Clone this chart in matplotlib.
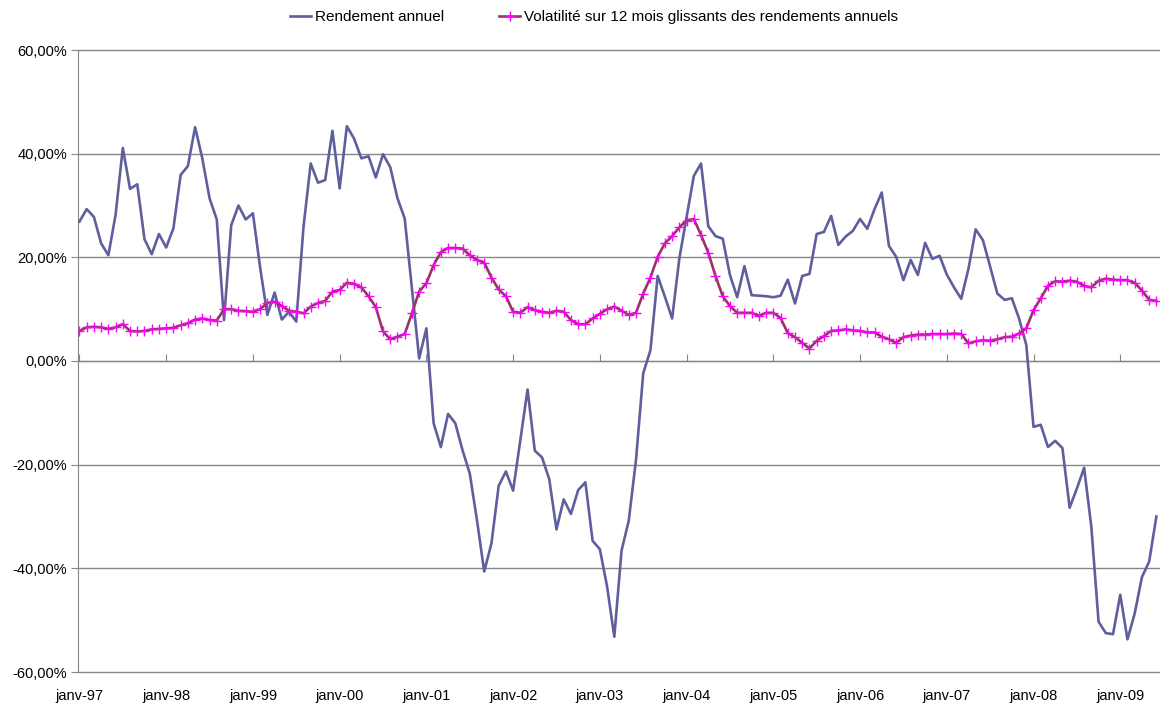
import matplotlib
matplotlib.use("Agg")
import matplotlib.pyplot as plt
from matplotlib.ticker import FuncFormatter
import pandas as pd

# Monthly categories: janv-97 .. juin-09
months = pd.date_range("1997-01-01", periods=150, freq="MS")

rendement = [
    26.9, 29.3, 27.8, 22.7, 20.4, 28.2, 41.1, 33.2, 34.1, 23.5, 20.6, 24.5,
    21.9, 25.6, 35.9, 37.6, 45.1, 39.1, 31.4, 27.3, 7.9, 26.2, 30.0, 27.3,
    28.5, 18.0, 8.9, 13.2, 8.0, 9.5, 7.6, 25.9, 38.1, 34.4, 34.9, 44.4,
    33.3, 45.3, 42.9, 39.1, 39.5, 35.4, 39.9, 37.4, 31.4, 27.5, 14.0, 0.5,
    6.3, -12.0, -16.6, -10.2, -12.0, -17.2, -21.7, -30.7, -40.6, -35.2, -24.1, -21.3,
    -25.0, -15.2, -5.5, -17.3, -18.6, -22.8, -32.5, -26.7, -29.5, -24.9, -23.4, -34.7,
    -36.3, -43.5, -53.2, -36.6, -30.8, -19.1, -2.4, 2.1, 16.4, 12.4, 8.2, 19.8,
    27.8, 35.7, 38.1, 26.0, 24.1, 23.6, 16.6, 12.3, 18.3, 12.7, 12.6, 12.5,
    12.3, 12.6, 15.7, 11.1, 16.4, 16.8, 24.5, 24.9, 28.0, 22.4, 24.0, 25.1,
    27.4, 25.5, 29.3, 32.5, 22.2, 20.1, 15.6, 19.5, 16.6, 22.8, 19.7, 20.3,
    16.7, 14.2, 12.0, 17.8, 25.4, 23.3, 18.2, 13.0, 11.8, 12.1, 8.2, 3.1,
    -12.7, -12.3, -16.6, -15.4, -16.8, -28.3, -24.6, -20.6, -32.0, -50.3, -52.5, -52.7,
    -45.1, -53.7, -48.7, -41.7, -38.7, -30.0,
]

volatilite = [
    5.8, 6.5, 6.6, 6.5, 6.2, 6.5, 7.1, 5.8, 5.7, 5.8, 6.1, 6.2,
    6.3, 6.4, 6.9, 7.3, 8.0, 8.2, 7.9, 7.8, 10.0, 10.0, 9.7, 9.6,
    9.5, 10.0, 11.2, 11.4, 10.6, 9.7, 9.5, 9.2, 10.5, 11.2, 11.6, 13.4,
    13.7, 15.1, 14.9, 14.2, 12.5, 10.4, 5.7, 4.2, 4.7, 5.2, 9.2, 13.4,
    15.0, 18.5, 21.0, 21.8, 21.8, 21.7, 20.4, 19.5, 19.0, 16.1, 13.8, 12.5,
    9.5, 9.3, 10.4, 9.8, 9.5, 9.3, 9.7, 9.5, 7.9, 7.1, 7.1, 8.2,
    9.1, 10.0, 10.5, 9.7, 8.9, 9.3, 13.0, 16.1, 20.1, 22.7, 24.1, 25.8,
    27.1, 27.4, 24.3, 20.9, 16.4, 12.5, 10.6, 9.3, 9.3, 9.3, 8.7, 9.3,
    9.3, 8.3, 5.4, 4.6, 3.5, 2.4, 3.9, 4.8, 5.8, 5.9, 6.1, 5.9,
    5.8, 5.5, 5.5, 4.7, 4.2, 3.5, 4.6, 4.9, 5.1, 5.1, 5.2, 5.2,
    5.2, 5.3, 5.2, 3.4, 3.8, 4.0, 3.9, 4.2, 4.6, 4.7, 5.3, 6.3,
    9.8, 12.1, 14.5, 15.4, 15.3, 15.5, 15.3, 14.5, 14.2, 15.5, 15.9, 15.7,
    15.6, 15.6, 15.1, 13.6, 11.8, 11.6,
]

tick_idx = list(range(0, 150, 12))
tick_labels = [f"janv-{months[i].year % 100:02d}" for i in tick_idx]
y_ticks = [-60, -40, -20, 0, 20, 40, 60]

FONT = ["Liberation Sans Narrow", "Liberation Sans", "DejaVu Sans"]
plt.rcParams["font.family"] = FONT

fig = plt.figure(figsize=(11.6, 7.07), dpi=100)
ax = fig.add_axes([78 / 1160, 35 / 707, (1160 - 78) / 1160, (672 - 50) / 707])

x = list(range(len(months)))
ax.plot(x, rendement, color="#5e5f9c", lw=1.9, label="Rendement annuel", zorder=3)
ax.plot(x, volatilite, color="#993366", lw=1.9, marker="+", markersize=7,
        markeredgecolor="#ff00ff", markeredgewidth=1.0,
        label="Volatilité sur 12 mois glissants des rendements annuels", zorder=4)

ax.set_xlim(-0.2, 149.5)
ax.set_ylim(-60, 60)
ax.set_yticks(y_ticks)
ax.yaxis.set_major_formatter(FuncFormatter(lambda v, p: f"{v:.2f}%".replace(".", ",")))
ax.grid(axis="y", color="#868686", lw=1.0)
for gl in ax.get_ygridlines():
    gl.set_clip_on(False)
ax.set_axisbelow(True)

for s in ["top", "right", "bottom"]:
    ax.spines[s].set_visible(False)
ax.spines["left"].set_color("#868686")
ax.tick_params(axis="y", length=5, color="#868686", labelsize=10.5, pad=3)

# x labels at the bottom, no tick marks there
ax.set_xticks(tick_idx)
ax.set_xticklabels(tick_labels)
ax.tick_params(axis="x", length=0, labelsize=10.5, pad=12)

# axis line with tick marks at 0%
sec = ax.secondary_xaxis(0.5)
sec.set_xticks(tick_idx)
sec.set_xticklabels([])
sec.tick_params(axis="x", length=5, color="#868686", direction="out")
sec.spines["bottom"].set_color("#868686")

fig.legend(loc="upper center", bbox_to_anchor=(0.512, 1.005), ncol=2, frameon=False,
           fontsize=11, handlelength=1.4, columnspacing=3.6, handletextpad=0.25)

fig.savefig("out.png", dpi=100)
